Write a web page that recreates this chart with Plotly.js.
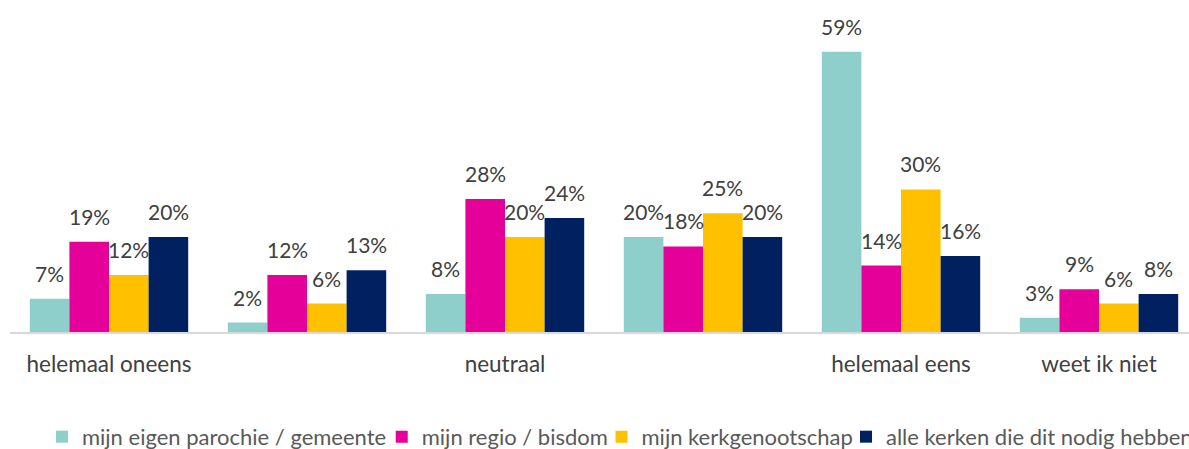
<!DOCTYPE html>
<html><head><meta charset="utf-8">
<script src="https://cdn.plot.ly/plotly-3.0.1.min.js"></script>
<style>html,body{margin:0;padding:0;overflow:hidden;background:#fff}</style>
</head><body><div id="chart" style="width:1300px;height:449px"></div>
<script>
const categories = ['helemaal oneens','oneens','neutraal','eens','helemaal eens','weet ik niet'];
const tickLabels = ['helemaal oneens','','neutraal','','helemaal eens','weet ik niet'];
const seriesNames = ['mijn eigen parochie / gemeente','mijn regio / bisdom','mijn kerkgenootschap','alle kerken die dit nodig hebben'];
const parochie = [7, 2, 8, 20, 59, 3];
const regio = [19, 12, 28, 18, 14, 9];
const kerkgenootschap = [12, 6, 20, 25, 30, 6];
const alleKerken = [20, 13, 24, 20, 16, 8];
const colors = ['#8ECFCB','#E5009A','#FFC000','#002060'];

const allSeries = [parochie, regio, kerkgenootschap, alleKerken];
const FONT = 'Lato, "Open Sans", sans-serif';
const legendIds = ['legend','legend2','legend3','legend4'];
const legendX = [0.0269, 0.3129, 0.4979, 0.7037];
const traces = allSeries.map((vals, j) => ({
  type: 'bar', name: seriesNames[j], x: categories, y: vals,
  marker: {color: colors[j], line: {width: 0}},
  legend: legendIds[j],
  hoverinfo: 'skip'
}));
const annotations = [];
allSeries.forEach((vals, j) => {
  vals.forEach((v, i) => {
    annotations.push({
      xref: 'x', yref: 'y', x: i + (j - 1.5) * 0.2, y: v,
      text: v + '%', showarrow: false, yanchor: 'bottom', yshift: 11,
      font: {family: FONT, size: 21, color: '#404040'}
    });
  });
});
const layout = {
  width: 1300, height: 449,
  margin: {l: 10, r: 102, t: 40, b: 117},
  paper_bgcolor: '#fff', plot_bgcolor: '#fff',
  barmode: 'group', bargap: 0.2, bargroupgap: 0,
  showlegend: true,
  xaxis: {
    type: 'category', tickvals: categories, ticktext: tickLabels,
    showline: true, linecolor: '#D9D9D9', linewidth: 1.5,
    ticks: '', showgrid: false, zeroline: false, ticklabelstandoff: 11,
    tickfont: {family: FONT, size: 22.5, color: '#404040'}
  },
  yaxis: {range: [0, 61.47], visible: false, showgrid: false, zeroline: false},
  annotations: annotations
};
legendIds.forEach((id, j) => {
  layout[id] = {
    orientation: 'h', x: legendX[j], xanchor: 'left',
    yref: 'container', y: 0.027, yanchor: 'middle',
    font: {family: FONT, size: 22, color: '#595959'},
    itemwidth: 30, borderwidth: 0, bgcolor: 'rgba(0,0,0,0)'
  };
});
Plotly.newPlot('chart', traces, layout, {displayModeBar: false, staticPlot: true});
</script></body></html>
